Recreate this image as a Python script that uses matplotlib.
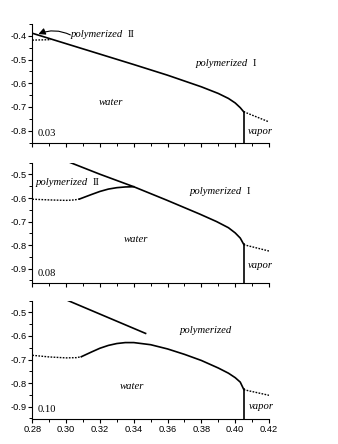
import matplotlib
matplotlib.use("Agg")
import matplotlib.pyplot as plt
from matplotlib.ticker import MultipleLocator

# ---------------- data ----------------
# Panel 1 (0.03)
p1_main_x = [0.280, 0.290, 0.300, 0.320, 0.340, 0.360, 0.380, 0.390, 0.396, 0.400, 0.403, 0.405]
p1_main_y = [-0.389, -0.411, -0.433, -0.477, -0.521, -0.566, -0.615, -0.643, -0.664, -0.683, -0.703, -0.720]
p1_dot_x = [0.280, 0.291]
p1_dot_y = [-0.418, -0.416]
p1_vap_x = [0.405, 0.420]
p1_vap_y = [-0.720, -0.763]
p1_vert_x = [0.405, 0.405]
p1_vert_y = [-0.720, -0.852]

# Panel 2 (0.08)
p2_main_x = [0.3023, 0.320, 0.340, 0.3595, 0.379, 0.389, 0.396, 0.400, 0.403, 0.405]
p2_main_y = [-0.449, -0.499, -0.552, -0.609, -0.668, -0.700, -0.726, -0.748, -0.770, -0.796]
p2_dot_x = [0.280, 0.290, 0.300, 0.305, 0.308]
p2_dot_y = [-0.605, -0.608, -0.610, -0.608, -0.604]
p2_sol_x = [0.308, 0.315, 0.320, 0.325, 0.330, 0.335, 0.340]
p2_sol_y = [-0.604, -0.585, -0.572, -0.562, -0.556, -0.553, -0.552]
p2_vap_x = [0.405, 0.420]
p2_vap_y = [-0.798, -0.825]
p2_vert_x = [0.405, 0.405]
p2_vert_y = [-0.796, -0.962]

# Panel 3 (0.10)
p3_up_x = [0.3013, 0.347]
p3_up_y = [-0.450, -0.589]
p3_dot_x = [0.280, 0.290, 0.300, 0.306, 0.309]
p3_dot_y = [-0.682, -0.689, -0.693, -0.692, -0.688]
p3_sol_x = [0.309, 0.315, 0.320, 0.325, 0.330, 0.335, 0.340, 0.350, 0.360, 0.370, 0.380, 0.390, 0.396, 0.400, 0.403, 0.405]
p3_sol_y = [-0.688, -0.668, -0.652, -0.640, -0.632, -0.628, -0.628, -0.637, -0.655, -0.678, -0.704, -0.736, -0.758, -0.777, -0.796, -0.826]
p3_vap_x = [0.405, 0.420]
p3_vap_y = [-0.828, -0.852]
p3_vert_x = [0.405, 0.405]
p3_vert_y = [-0.826, -0.954]

x_ticks = [0.28, 0.30, 0.32, 0.34, 0.36, 0.38, 0.40, 0.42]
x_ticklabels = ["0.28", "0.30", "0.32", "0.34", "0.36", "0.38", "0.40", "0.42"]
y_ticks = [-0.9, -0.8, -0.7, -0.6, -0.5, -0.4]
y_ticklabels = ["-0.9", "-0.8", "-0.7", "-0.6", "-0.5", "-0.4"]
panel_labels = ["0.03", "0.08", "0.10"]

# ---------------- figure ----------------
W, H = 338, 444
fig = plt.figure(figsize=(W / 100, H / 100), dpi=100)

def rect(top_px, bot_px):
    left = 32.3 / W
    width = 236.7 / W
    return [left, 1 - bot_px / H, width, (bot_px - top_px) / H]

ax1 = fig.add_axes(rect(24.0, 143.0))
ax2 = fig.add_axes(rect(162.7, 283.3))
ax3 = fig.add_axes(rect(300.7, 419.3))

ylims = [(-0.852, -0.35), (-0.962, -0.45), (-0.954, -0.45)]
tickfont = dict(family="Liberation Sans", size=6.7)
lab = dict(family="Liberation Serif", style="italic", size=7.7)
roman = dict(family="Liberation Serif", size=7.7)
num = dict(family="Liberation Serif", size=7.6)
LW = 1.2
DLW = 1.0
DOT = (0, (1.2, 1.0))

for i, ax in enumerate([ax1, ax2, ax3]):
    ax.set_xlim(0.28, 0.42)
    for s in ["top", "right"]:
        ax.spines[s].set_visible(False)
    for s in ["left", "bottom"]:
        ax.spines[s].set_linewidth(0.8)
    ax.xaxis.set_minor_locator(MultipleLocator(0.01))
    ax.yaxis.set_minor_locator(MultipleLocator(0.05))
    ax.tick_params(which="major", direction="out", length=2.8, width=0.8, pad=1.5)
    ax.tick_params(which="minor", direction="out", length=2.0, width=0.7)
    ax.set_xticks(x_ticks)
    if i < 2:
        ax.set_xticklabels([])
    else:
        ax.set_xticklabels(x_ticklabels, fontdict=tickfont)
    lo, hi = ylims[i]
    yt = [(t, l) for t, l in zip(y_ticks, y_ticklabels) if lo <= t <= hi]
    ax.set_yticks([t for t, _ in yt])
    ax.set_yticklabels([l for _, l in yt], fontdict=tickfont)
    ax.set_ylim(lo, hi)
    ax.text(0.283, lo + 0.04, panel_labels[i], ha="left", va="center", **num)

def label_with_numeral(ax, x, y, numeral, ha="center"):
    t = ax.text(x, y, "polymerized", ha=ha, va="center", **lab)
    ax.annotate(numeral, xy=(1, 0.5), xycoords=t, xytext=(3.2, 0),
                textcoords="offset points", ha="left", va="center", **roman)
    return t

# Panel 1
ax1.plot(p1_main_x, p1_main_y, color="black", lw=LW)
ax1.plot(p1_dot_x, p1_dot_y, color="black", lw=DLW, ls=DOT)
ax1.plot(p1_vap_x, p1_vap_y, color="black", lw=DLW, ls=DOT)
ax1.plot(p1_vert_x, p1_vert_y, color="black", lw=LW, clip_on=False)
label_with_numeral(ax1, 0.3029, -0.396, "II", ha="left")
ax1.annotate("", xy=(0.2836, -0.3925), xytext=(0.3025, -0.396),
             arrowprops=dict(arrowstyle="-|>,head_length=0.4,head_width=0.2", color="black",
                             lw=0.8, connectionstyle="arc3,rad=0.22",
                             shrinkA=0, shrinkB=0))
label_with_numeral(ax1, 0.392, -0.515, "I")
ax1.text(0.3264, -0.680, "water", ha="center", va="center", **lab)
ax1.text(0.4151, -0.804, "vapor", ha="center", va="center", **lab)

# Panel 2
ax2.plot(p2_main_x, p2_main_y, color="black", lw=LW)
ax2.plot(p2_dot_x, p2_dot_y, color="black", lw=DLW, ls=DOT)
ax2.plot(p2_sol_x, p2_sol_y, color="black", lw=LW)
ax2.plot(p2_vap_x, p2_vap_y, color="black", lw=DLW, ls=DOT)
ax2.plot(p2_vert_x, p2_vert_y, color="black", lw=LW, clip_on=False)
label_with_numeral(ax2, 0.2975, -0.535, "II")
label_with_numeral(ax2, 0.3885, -0.573, "I")
ax2.text(0.3412, -0.776, "water", ha="center", va="center", **lab)
ax2.text(0.4150, -0.887, "vapor", ha="center", va="center", **lab)

# Panel 3
ax3.plot(p3_up_x, p3_up_y, color="black", lw=LW)
ax3.plot(p3_dot_x, p3_dot_y, color="black", lw=DLW, ls=DOT)
ax3.plot(p3_sol_x, p3_sol_y, color="black", lw=LW)
ax3.plot(p3_vap_x, p3_vap_y, color="black", lw=DLW, ls=DOT)
ax3.plot(p3_vert_x, p3_vert_y, color="black", lw=LW, clip_on=False)
ax3.text(0.3826, -0.578, "polymerized", ha="center", va="center", **lab)
ax3.text(0.3388, -0.814, "water", ha="center", va="center", **lab)
ax3.text(0.4153, -0.900, "vapor", ha="center", va="center", **lab)

fig.savefig("out.png", dpi=100)
